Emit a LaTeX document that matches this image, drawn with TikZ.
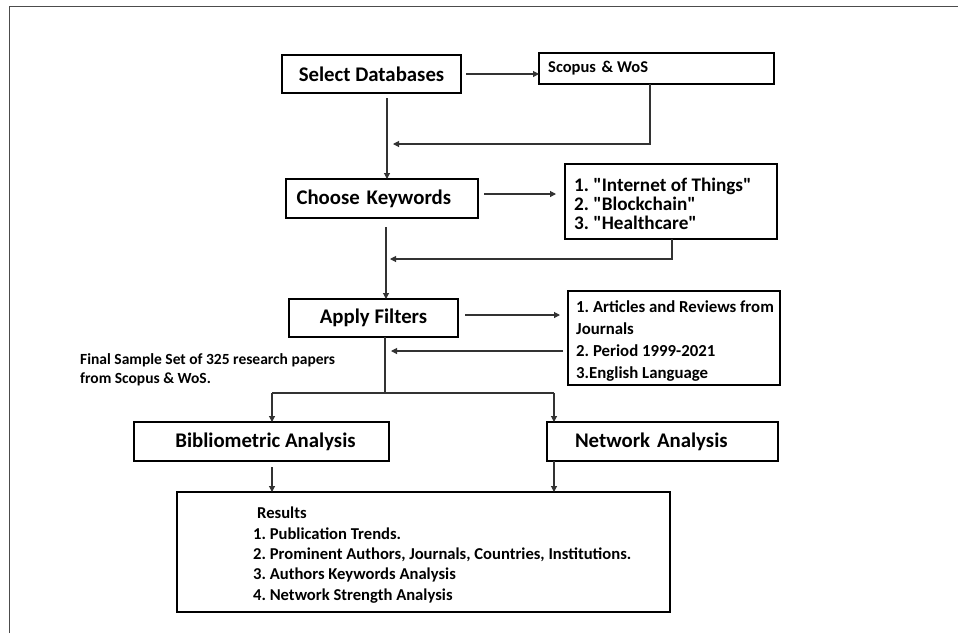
\documentclass[tikz,border=0pt]{standalone}
\usepackage{fontspec}
\setmainfont{Carlito}[Ligatures=TeXOff]
\usetikzlibrary{arrows.meta}
\frenchspacing
\begin{document}
\begin{tikzpicture}[x=1pt,y=-1pt,
  box/.style={draw=black, line width=2.2pt, fill=white, inner sep=0pt, outer sep=0pt,
    font=\fontsize{20.8}{24}\selectfont\bfseries},
  frame/.style={draw=black, line width=2.2pt, fill=white, inner sep=0pt, outer sep=0pt},
  txt/.style={inner sep=0pt, anchor=west, align=left},
  arr/.style={draw=black!80, line width=1.1pt, -{Triangle[length=6pt,width=6pt]}},
  ln/.style={draw=black!80, line width=1.1pt}]
\useasboundingbox (0,0) rectangle (958,633);
\fill[white] (0,0) rectangle (958,633);
% outer frame
\draw[black!70, line width=1.6pt] (9.5,633) -- (9.5,6.5) -- (958,6.5);

% boxes
\node[box, minimum width=179pt, minimum height=38pt] (sd) at (371.5,74) {Select Databases};
\node[frame, minimum width=235pt, minimum height=31pt] (sc) at (656.5,68.5) {};
\node[txt, font=\fontsize{16.5}{19}\selectfont\bfseries] (sct) at (548,68.5) {Scopus\hspace{2pt} \& WoS};
\node[box, minimum width=192pt, minimum height=39pt, text width=181pt, align=left] (ck) at (382,198.5) {\hspace*{5pt}Choose Keywords};
\node[frame, minimum width=212pt, minimum height=75pt] (kw) at (671,201.5) {};
\node[txt, font=\fontsize{19.2}{19}\selectfont\bfseries] (kwt) at (574,204) {1. "Internet of Things"\\2. "Blockchain"\\3. "Healthcare"};
\node[box, minimum width=169pt, minimum height=38pt] (af) at (373.5,318) {Apply Filters};
\node[frame, minimum width=212pt, minimum height=94pt] (fl) at (674,338) {};
\node[txt, font=\fontsize{16.8}{22}\selectfont\bfseries] (flt) at (576,341) {1. Articles and Reviews from\\Journals\\2. Period 1999-2021\\3.English Language};
\node[txt, font=\fontsize{15.5}{19}\selectfont\bfseries, anchor=north west] (fs) at (80,353) {Final Sample Set of 325 research papers\\from Scopus \& WoS.};
\node[box, minimum width=255pt, minimum height=39pt] (ba) at (261.5,441.5) {\hspace*{8pt}Bibliometric Analysis};
\node[box, minimum width=231pt, minimum height=39pt, text width=203pt, align=left] (na) at (662.5,441.5) {\hspace*{14pt}Network Analysis};
\node[frame, minimum width=493pt, minimum height=120pt] (rs) at (423.5,552) {};
\node[txt, font=\fontsize{16.6}{20.3}\selectfont\bfseries] (rst) at (253,555) {\hspace*{4pt}Results\\1. Publication Trends.\\2. Prominent Authors, Journals, Countries, Institutions.\\3. Authors Keywords Analysis\\4. Network Strength Analysis};

% helper coordinates
\coordinate (s1) at (387,98);
\coordinate (r1) at (393,144);
\coordinate (s2) at (386,227);
\coordinate (r2) at (390,259);
\coordinate (j) at (385,393);
\coordinate (r3) at (391,351);
\coordinate (bl) at (272,393);
\coordinate (br) at (554,393);

% connectors
\draw[arr] ([xshift=5pt]sd.east) -- (sd.east -| sc.west);
\draw[arr] (s1) -- (s1 |- ck.north);
\draw[arr] (650,0 |- sc.south) -- (650,144) -- (r1);

\draw[arr] ([xshift=6pt]ck.east |- 0,194) -- (556,194);
\draw[arr] (s2) -- (s2 |- af.north);
\draw[arr] (672,0 |- kw.south) -- (672,259) -- (r2);

\draw[arr] ([xshift=7pt]af.east |- 0,315) -- (560,315);
\draw[arr] (563,351) -- (r3);
\draw[ln] (385,0 |- af.south) -- (j);
\draw[ln] (bl) -- (br);
\draw[arr] (bl) -- (bl |- ba.north);
\draw[arr] (br) -- (br |- na.north);
\draw[arr] (272,467) -- (272,0 |- rs.north);
\draw[arr] (554,0 |- na.south) -- (554,0 |- rs.north);
\end{tikzpicture}
\end{document}
